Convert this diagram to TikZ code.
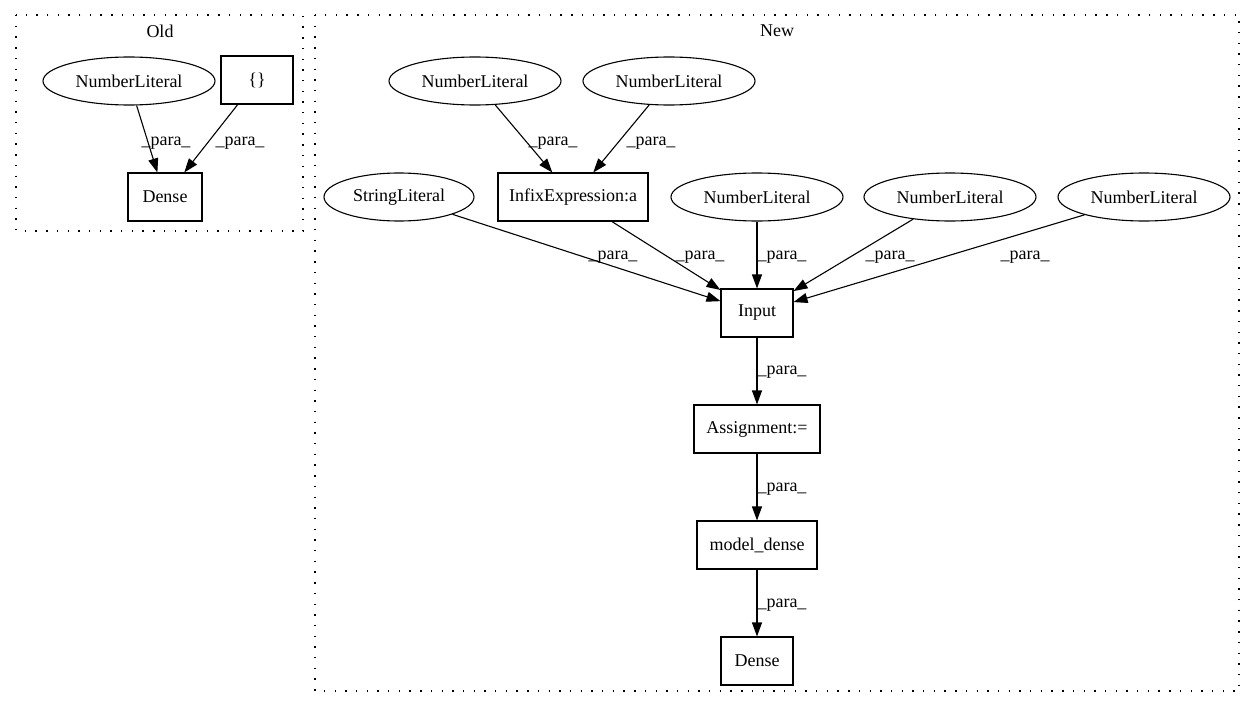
\documentclass[tikz,border=0pt]{standalone}
\usepackage{fontspec}
\setmainfont{Liberation Serif}
\usetikzlibrary{shapes.geometric,arrows.meta}
\begin{document}
\begin{tikzpicture}[x=1pt,y=-1pt,
  every node/.style={font=\fontsize{18}{21}\selectfont},
  ell/.style={ellipse, draw, line width=1.1pt, inner sep=1pt, minimum height=48pt},
  box/.style={rectangle, draw, line width=1.1pt, inner sep=2pt, minimum height=48pt},
  edge/.style={draw, line width=1.1pt, -{Triangle[length=14pt,width=10pt]}},
  lbl/.style={inner sep=0pt},
  cluster/.style={draw, line width=1.2pt, dash pattern=on 1.4pt off 9.3pt},
  ttl/.style={inner sep=0pt}]
\useasboundingbox (0,0) rectangle (1256,712);
% clusters
\draw[cluster] (16,15) rectangle (303,231);
\node[ttl] (toldt) at (160,31) {Old};
\draw[cluster] (315,15) rectangle (1239,691);
\node[ttl] (tnew) at (777,31) {New};
% Old nodes
\node[ell, minimum width=172pt] (onl) at (129,81) {NumberLiteral};
\node[box, minimum width=72pt] (obr) at (257,80) {\{\}};
\node[box, minimum width=74pt] (odense) at (165,197) {Dense};
\path[edge] (onl) -- (odense) node[lbl, at={(166,143)}] {\_para\_};
\path[edge] (obr) -- (odense) node[lbl, at={(240,143)}] {\_para\_};
% New nodes
\node[ell, minimum width=172pt] (n1) at (475,81) {NumberLiteral};
\node[ell, minimum width=172pt] (n2) at (669,81) {NumberLiteral};
\node[box, minimum width=150pt] (infix) at (573,197) {InfixExpression:a};
\node[ell, minimum width=150pt] (str) at (399,197) {StringLiteral};
\node[ell, minimum width=172pt] (n3) at (757,197) {NumberLiteral};
\node[ell, minimum width=172pt] (n4) at (950,197) {NumberLiteral};
\node[ell, minimum width=172pt] (n5) at (1144,197) {NumberLiteral};
\node[box, minimum width=72pt] (input) at (757,313) {Input};
\node[box, minimum width=126pt] (assign) at (757,429) {Assignment:=};
\node[box, minimum width=120pt] (mdense) at (757,545) {model\_dense};
\node[box, minimum width=72pt] (ndense) at (757,661) {Dense};
% New edges
\path[edge] (n1) -- (infix) node[lbl, at={(553,143)}] {\_para\_};
\path[edge] (n2) -- (infix) node[lbl, at={(651,143)}] {\_para\_};
\path[edge] (str) -- (input) node[lbl, at={(613,257)}] {\_para\_};
\path[edge] (infix) -- (input) node[lbl, at={(700,257)}] {\_para\_};
\path[edge] (n3) -- (input) node[lbl, at={(782,257)}] {\_para\_};
\path[edge] (n4) -- (input) node[lbl, at={(890,257)}] {\_para\_};
\path[edge] (n5) -- (input) node[lbl, at={(1025,257)}] {\_para\_};
\path[edge] (input) -- (assign) node[lbl, at={(782,372)}] {\_para\_};
\path[edge] (assign) -- (mdense) node[lbl, at={(782,489)}] {\_para\_};
\path[edge] (mdense) -- (ndense) node[lbl, at={(782,605)}] {\_para\_};
\end{tikzpicture}
\end{document}
